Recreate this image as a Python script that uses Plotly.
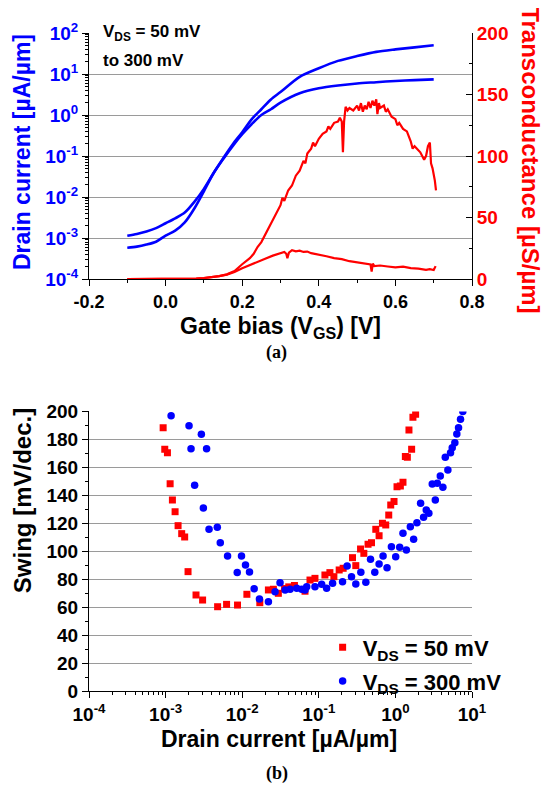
import plotly.graph_objects as go

# ---------------- (a) drain current vs gate bias ----------------
vgs_id = [-0.1, -0.075, -0.05, -0.025, 0.0, 0.025, 0.05, 0.075, 0.1, 0.125, 0.15, 0.175,
          0.2, 0.225, 0.25, 0.275, 0.3, 0.35, 0.4, 0.45, 0.5, 0.55, 0.6, 0.65, 0.7]
id_300mv = [1.14e-3, 1.26e-3, 1.45e-3, 1.74e-3, 2.29e-3, 3.02e-3, 4.17e-3, 7.59e-3, 1.58e-2,
            3.80e-2, 8.71e-2, 0.191, 0.380, 0.794, 1.38, 2.40, 3.63, 8.51, 13.8, 20.9,
            27.5, 34.7, 39.8, 44.7, 50.1]
id_50mv = [5.79e-4, 6.17e-4, 6.92e-4, 8.13e-4, 1.15e-3, 1.51e-3, 2.40e-3, 5.25e-3, 1.38e-2,
           3.80e-2, 8.32e-2, 0.174, 0.339, 0.603, 1.00, 1.38, 2.00, 3.39, 4.47, 5.25,
           5.89, 6.31, 6.76, 7.08, 7.41]

vgs_gm_hi = [-0.1, 0.0, 0.05, 0.08, 0.1, 0.12, 0.14, 0.16, 0.18, 0.2, 0.21, 0.22, 0.23, 0.24,
             0.25, 0.26, 0.27, 0.28, 0.29, 0.3, 0.305, 0.31, 0.32, 0.33, 0.34, 0.35, 0.36,
             0.365, 0.37, 0.38, 0.385, 0.39, 0.4, 0.41, 0.42, 0.425, 0.43, 0.44, 0.45, 0.455,
             0.46, 0.463, 0.466, 0.47, 0.475, 0.48, 0.49, 0.5, 0.505, 0.51, 0.515, 0.52, 0.525,
             0.53, 0.535, 0.54, 0.545, 0.55, 0.553, 0.557, 0.56, 0.57, 0.575, 0.58, 0.59, 0.6,
             0.605, 0.61, 0.62, 0.63, 0.64, 0.645, 0.65, 0.66, 0.665, 0.67, 0.675, 0.68, 0.685,
             0.69, 0.693, 0.697, 0.7, 0.703, 0.706]
gm_hi = [0.0, 0.0, 0.1, 0.4, 0.8, 1.5, 2.4, 3.8, 6.5, 12.0, 14.5, 17.0, 20.5, 26.0,
         30.0, 36.0, 42.0, 48.0, 55.0, 60.0, 66.0, 63.5, 72.0, 76.0, 84.0, 88.0, 96.0,
         94.0, 102.0, 106.0, 111.0, 108.0, 114.0, 118.0, 120.0, 124.0, 122.0, 127.0, 128.0, 131.0,
         128.0, 103.0, 128.0, 140.0, 137.0, 139.0, 137.0, 141.0, 137.0, 143.0, 136.0, 141.0, 138.0,
         144.0, 139.0, 145.0, 141.0, 146.0, 134.0, 143.0, 139.0, 141.0, 136.0, 138.0, 132.0, 130.0,
         125.0, 127.0, 122.0, 120.0, 112.0, 106.0, 108.0, 105.0, 103.0, 100.0, 97.0, 100.0, 108.0,
         111.0, 94.0, 90.0, 86.0, 80.0, 72.0]

vgs_gm_lo = [-0.1, 0.0, 0.05, 0.08, 0.1, 0.12, 0.14, 0.16, 0.18, 0.2, 0.22, 0.24, 0.26, 0.28,
             0.29, 0.3, 0.31, 0.315, 0.318, 0.322, 0.33, 0.34, 0.35, 0.36, 0.37, 0.38, 0.39,
             0.4, 0.42, 0.44, 0.46, 0.48, 0.5, 0.52, 0.53, 0.535, 0.538, 0.541, 0.545, 0.56,
             0.58, 0.6, 0.62, 0.64, 0.66, 0.68, 0.69, 0.7, 0.705]
gm_lo = [0.0, 0.0, 0.1, 0.4, 0.8, 1.5, 2.4, 3.6, 5.8, 8.7, 11.5, 14.0, 16.5, 19.0,
         19.8, 21.0, 22.0, 20.5, 17.0, 21.5, 23.5, 22.5, 23.0, 22.0, 22.3, 21.0, 20.5,
         19.8, 18.5, 17.0, 16.2, 14.5, 13.5, 12.5, 12.0, 11.8, 6.0, 12.5, 10.5, 11.0,
         10.2, 9.5, 10.0, 8.8, 8.5, 7.5, 8.0, 7.3, 10.5]

# ---------------- (b) swing vs drain current ----------------
id_sw_50 = [0.000929, 0.000975, 0.001057, 0.001146, 0.001227, 0.001330, 0.001455, 0.001622,
            0.001774, 0.001963, 0.002495, 0.003041, 0.004775, 0.006252, 0.008690, 0.01151,
            0.01698, 0.02198, 0.02553, 0.02965, 0.03573, 0.04055, 0.04808, 0.06607, 0.07674,
            0.08913, 0.1202, 0.1396, 0.1574, 0.1845, 0.2080, 0.2754, 0.3041, 0.3508, 0.3873,
            0.4395, 0.4875, 0.5546, 0.6124, 0.6776, 0.7482, 0.8185, 0.8690, 0.9594, 1.050,
            1.161, 1.256, 1.349, 1.432, 1.629, 1.503, 1.694, 1.837]
sw_50 = [188.4, 172.9, 170.5, 148.3, 136.7, 128.3, 118.3, 112.6,
         110.2, 85.4, 68.7, 65.1, 60.3, 62.0, 61.5, 69.2,
         63.2, 72.3, 72.8, 69.9, 73.3, 74.5, 75.5, 71.4, 79.4,
         80.6, 83.0, 84.7, 81.8, 86.6, 87.8, 95.4, 89.7, 101.6, 98.5,
         105.0, 106.1, 115.7, 111.1, 120.0, 118.8, 125.9, 133.1, 135.5, 146.2,
         146.7, 149.3, 167.7, 167.2, 172.9, 186.8, 195.8, 198.0]

id_sw_300 = [0.001180, 0.002023, 0.002148, 0.002393, 0.002931, 0.003112, 0.003428, 0.003690,
             0.004732, 0.005176, 0.006442, 0.008610, 0.009795, 0.01104, 0.01245, 0.01432,
             0.01679, 0.02198, 0.02685, 0.03119, 0.03631, 0.04217, 0.05152, 0.05984, 0.06607,
             0.06950, 0.08913, 0.1089, 0.1265, 0.1514, 0.2042, 0.2344, 0.2673, 0.3041, 0.3540,
             0.4111, 0.4732, 0.5383, 0.6124, 0.6902, 0.7780, 0.8872, 1.009, 1.138, 1.256,
             1.390, 1.567, 1.730, 1.910, 2.133, 2.333, 2.529, 2.735, 3.027, 3.319, 3.524,
             3.855, 4.169, 4.477, 4.842, 5.248, 5.521, 5.970, 6.339, 6.668, 7.079, 7.586]
sw_300 = [197.0, 189.8, 173.4, 147.2, 183.7, 130.9, 173.4, 115.7,
          117.1, 106.1, 96.6, 84.7, 96.6, 90.2, 85.2, 73.2,
          65.8, 63.9, 71.1, 77.5, 72.3, 72.8, 73.5, 72.8, 72.3,
          74.6, 74.6, 76.3, 73.5, 77.1, 78.2, 89.4, 81.8, 76.6, 84.9,
          77.8, 94.2, 84.9, 90.9, 96.6, 88.2, 103.3, 96.1, 102.8, 112.8,
          100.9, 117.6, 108.5, 120.4, 134.3, 124.3, 129.5, 127.2, 148.1, 136.7, 148.6,
          153.8, 145.8, 167.2, 158.1, 170.5, 174.1, 177.7, 183.9, 188.4, 194.4, 199.9]

# tick labels
id_tickvals = [1e-4, 1e-3, 1e-2, 1e-1, 1e0, 1e1, 1e2]
id_ticktext = ["10<sup>-4</sup>", "10<sup>-3</sup>", "10<sup>-2</sup>", "10<sup>-1</sup>",
               "10<sup>0</sup>", "10<sup>1</sup>", "10<sup>2</sup>"]
isw_tickvals = [1e-4, 1e-3, 1e-2, 1e-1, 1e0, 1e1]
isw_ticktext = ["10<sup>-4</sup>", "10<sup>-3</sup>", "10<sup>-2</sup>", "10<sup>-1</sup>",
                "10<sup>0</sup>", "10<sup>1</sup>"]
vgs_tickvals = [-0.2, 0.0, 0.2, 0.4, 0.6, 0.8]
vgs_ticktext = ["-0.2", "0.0", "0.2", "0.4", "0.6", "0.8"]

BLUE = "#0000FF"
RED = "#FF0000"
FONT = "Liberation Sans, Arial, sans-serif"
SERIF = "Liberation Serif, Times New Roman, serif"
GRID = "#9a9a9a"

fig = go.Figure()
fig.add_trace(go.Scatter(x=vgs_id, y=id_300mv, mode="lines",
                         line=dict(color=BLUE, width=2.6, shape="spline", smoothing=0.8),
                         xaxis="x", yaxis="y", showlegend=False))
fig.add_trace(go.Scatter(x=vgs_id, y=id_50mv, mode="lines",
                         line=dict(color=BLUE, width=2.6, shape="spline", smoothing=0.8),
                         xaxis="x", yaxis="y", showlegend=False))
fig.add_trace(go.Scatter(x=vgs_gm_hi, y=gm_hi, mode="lines", line=dict(color=RED, width=2.2),
                         xaxis="x", yaxis="y2", showlegend=False))
fig.add_trace(go.Scatter(x=vgs_gm_lo, y=gm_lo, mode="lines", line=dict(color=RED, width=2.2),
                         xaxis="x", yaxis="y2", showlegend=False))
fig.add_trace(go.Scatter(x=id_sw_50, y=sw_50, mode="markers", name="V<sub>DS</sub> = 50 mV",
                         marker=dict(symbol="square", color=RED, size=7),
                         xaxis="x2", yaxis="y3", legendgroup="a"))
fig.add_trace(go.Scatter(x=id_sw_300, y=sw_300, mode="markers", name="V<sub>DS</sub> = 300 mV",
                         marker=dict(symbol="circle", color=BLUE, size=7.5),
                         xaxis="x2", yaxis="y3", legendgroup="b"))

common = dict(showline=True, linecolor="black", linewidth=1, mirror=False, zeroline=False)


def tfont(color="black", size=18):
    return dict(size=size, weight="bold", family=FONT, color=color)


fig.update_layout(
    width=546, height=781,
    margin=dict(l=81, r=82, t=25, b=98),
    paper_bgcolor="white", plot_bgcolor="white",
    font=dict(family=FONT, color="black"),
    xaxis=dict(domain=[0, 1], anchor="y", range=[-0.2, 0.8],
               tickmode="array", tickvals=vgs_tickvals, ticktext=vgs_ticktext,
               ticks="outside", ticklen=6, tickcolor="black", showgrid=False,
               minor=dict(dtick=0.1, tick0=0, ticks="outside", ticklen=3, tickcolor="black"),
               tickfont=tfont(size=18), **common),
    yaxis=dict(domain=[0.6261, 1], anchor="x", type="log", range=[-4, 2],
               tickmode="array", tickvals=id_tickvals, ticktext=id_ticktext,
               ticks="outside", ticklen=6, tickcolor="black", showgrid=True, gridcolor=GRID, gridwidth=1,
               minor=dict(dtick="D1", ticks="outside", ticklen=3, tickcolor="black", showgrid=False),
               tickfont=tfont(BLUE, 19), **common),
    yaxis2=dict(overlaying="y", anchor="x", side="right", range=[0, 200], dtick=50,
                ticks="inside", ticklen=6, tickcolor="black", showgrid=False,
                minor=dict(dtick=25, ticks="inside", ticklen=3, tickcolor="black"),
                tickfont=tfont(RED, 19), **common),
    xaxis2=dict(domain=[0, 1], anchor="y3", type="log", range=[-4, 1],
                tickmode="array", tickvals=isw_tickvals, ticktext=isw_ticktext,
                ticks="outside", ticklen=6, tickcolor="black", showgrid=False,
                minor=dict(dtick="D1", ticks="outside", ticklen=3, tickcolor="black", showgrid=False),
                tickfont=tfont(size=19), **common),
    yaxis3=dict(domain=[0, 0.4248], anchor="x2", range=[0, 200], dtick=20,
                ticks="outside", ticklen=6, tickcolor="black", showgrid=True, gridcolor=GRID, gridwidth=1,
                minor=dict(dtick=10, ticks="outside", ticklen=3, tickcolor="black", showgrid=False),
                tickfont=tfont(size=19), **common),
    legend=dict(x=0.61, y=0.098, xanchor="left", yanchor="top", bgcolor="rgba(0,0,0,0)",
                font=tfont(size=22), tracegroupgap=2, itemwidth=30),
    showlegend=True,
)

ann = [
    dict(text="Drain current [µA/µm]", x=-0.175, y=0.819, xref="paper", yref="paper",
         textangle=-90, showarrow=False, xanchor="center", yanchor="middle", font=tfont(BLUE, 23)),
    dict(text="Transconductance [µS/µm]", x=1.151, y=0.807, xref="paper", yref="paper",
         textangle=90, showarrow=False, xanchor="center", yanchor="middle", font=tfont(RED, 24)),
    dict(text="Gate bias (V<sub>GS</sub>) [V]", x=0.499, y=0.552, xref="paper", yref="paper",
         showarrow=False, xanchor="center", yanchor="middle", font=tfont(size=23)),
    dict(text="(a)", x=0.49, y=0.515, xref="paper", yref="paper", showarrow=False,
         xanchor="center", yanchor="middle", font=dict(size=18, weight="bold", family=SERIF, color="black")),
    dict(text="V<sub>DS</sub> = 50 mV", x=0.031, y=1.0, xref="x domain", yref="y domain",
         showarrow=False, xanchor="left", yanchor="middle", align="left", font=tfont(size=17)),
    dict(text="to 300 mV", x=0.031, y=0.887, xref="x domain", yref="y domain",
         showarrow=False, xanchor="left", yanchor="middle", align="left", font=tfont(size=17)),
    dict(text="Swing [mV/dec.]", x=-0.175, y=0.29, xref="paper", yref="paper",
         textangle=-90, showarrow=False, xanchor="center", yanchor="middle", font=tfont(size=24)),
    dict(text="Drain current [µA/µm]", x=0.495, y=-0.073, xref="paper", yref="paper",
         showarrow=False, xanchor="center", yanchor="middle", font=tfont(size=23)),
    dict(text="(b)", x=0.49, y=-0.125, xref="paper", yref="paper", showarrow=False,
         xanchor="center", yanchor="middle", font=dict(size=18, weight="bold", family=SERIF, color="black")),
]
fig.update_layout(annotations=ann)

fig.write_html("out.html")
